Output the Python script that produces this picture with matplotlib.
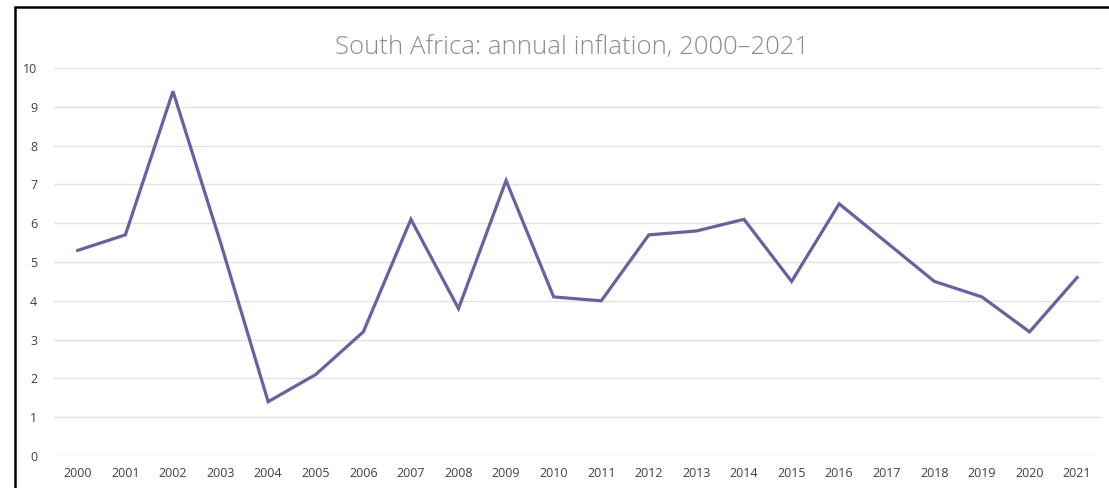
import matplotlib.pyplot as plt
from matplotlib.patches import Rectangle

# Annual CPI inflation, South Africa (%)
years = [str(y) for y in range(2000, 2022)]
inflation = [5.3, 5.7, 9.4, 5.5, 1.4, 2.1, 3.2, 6.1, 3.8, 7.1, 4.1,
             4.0, 5.7, 5.8, 6.1, 4.5, 6.5, 5.5, 4.5, 4.1, 3.2, 4.6]
yticks = list(range(0, 11))

fig = plt.figure(figsize=(11.09, 4.88), dpi=100)
ax = fig.add_axes([0.0487, 0.0656, 0.944, 0.795])

x = range(len(years))
ax.plot(x, inflation, color='#6462a0', lw=2.3, solid_joinstyle='miter', zorder=3)

ax.set_xlim(-0.5, len(years) - 0.5)
ax.set_ylim(0, 10)
ax.set_xticks(list(x))
ax.set_xticklabels(years)
ax.set_yticks(yticks)

for s in ax.spines.values():
    s.set_visible(False)
ax.grid(axis='y', color='#e2e2e2', lw=1)
ax.tick_params(length=0, colors='#404040', labelsize=9)
ax.tick_params(axis='x', pad=8)
ax.tick_params(axis='y', pad=12)
for lab in ax.get_xticklabels() + ax.get_yticklabels():
    lab.set_family('Open Sans')

fig.text(0.516, 0.903, 'South Africa: annual inflation, 2000\u20132021',
         ha='center', va='center', fontsize=18.5, color='#8c8c8c',
         family='Open Sans', fontweight='light')

# frame around the chart area (top and left edges show)
fig.patches.append(Rectangle((15 / 1109, -0.1), 1.2, 1.1 - 7 / 488,
                             transform=fig.transFigure, fill=False,
                             edgecolor='black', lw=1.8, zorder=10))

fig.savefig('out.png', dpi=100)
